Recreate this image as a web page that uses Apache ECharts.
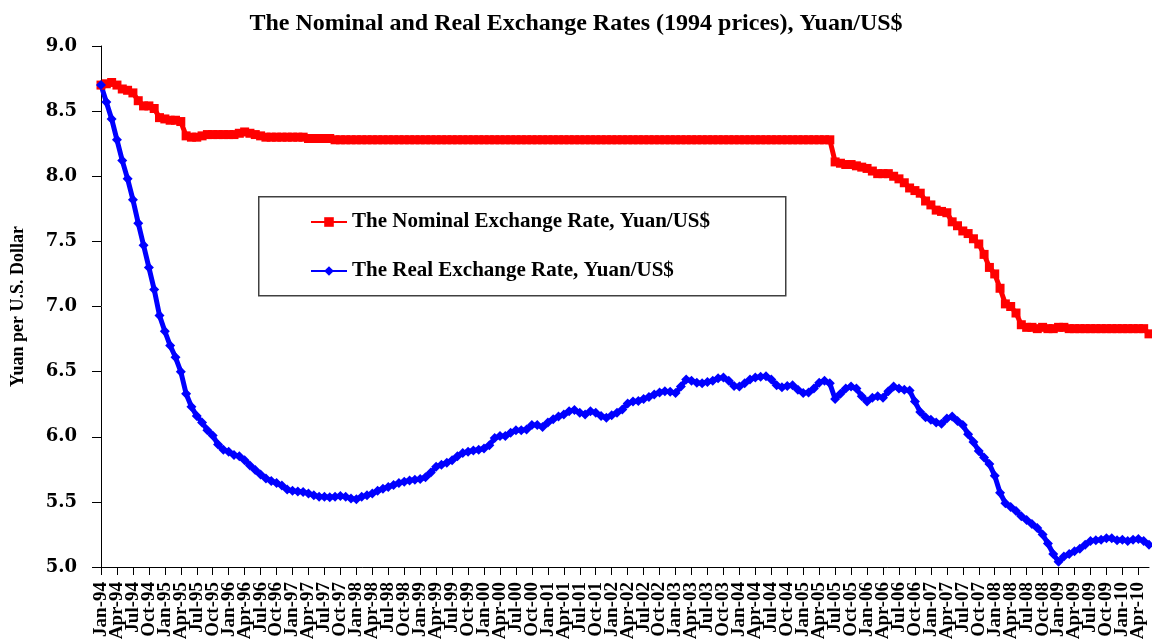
<!DOCTYPE html>
<html>
<head>
<meta charset="utf-8">
<script src="https://cdn.jsdelivr.net/npm/echarts@6/dist/echarts.min.js"></script>
<style>
  html, body { margin: 0; padding: 0; background: #fff; }
  #chart { width: 1152px; height: 639px; }
</style>
</head>
<body>
<div id="chart"></div>
<script>
const MONTHS = ['Jan', 'Feb', 'Mar', 'Apr', 'May', 'Jun', 'Jul', 'Aug', 'Sep', 'Oct', 'Nov', 'Dec'];
const YEARS = ['94', '95', '96', '97', '98', '99', '00', '01', '02', '03', '04', '05', '06', '07', '08', '09', '10'];
const LAST_MONTHS_2010 = 6; // Jan-10 .. Jun-10

const yTicks = { min: 5.0, max: 9.0, interval: 0.5 };

// Nominal exchange rate, Yuan/US$ (monthly, Jan-94 .. Jun-10)
const nominal = [
  8.70, 8.71, 8.72, 8.70, 8.67, 8.66, 8.64, 8.58, 8.54, 8.54, 8.52, 8.45, // 1994
  8.44, 8.43, 8.43, 8.42, 8.31, 8.30, 8.30, 8.31, 8.32, 8.32, 8.32, 8.32, // 1995
  8.32, 8.32, 8.33, 8.34, 8.33, 8.32, 8.31, 8.30, 8.30, 8.30, 8.30, 8.30, // 1996
  8.30, 8.30, 8.30, 8.29, 8.29, 8.29, 8.29, 8.29, 8.28, 8.28, 8.28, 8.28, // 1997
  8.28, 8.28, 8.28, 8.28, 8.28, 8.28, 8.28, 8.28, 8.28, 8.28, 8.28, 8.28, // 1998
  8.28, 8.28, 8.28, 8.28, 8.28, 8.28, 8.28, 8.28, 8.28, 8.28, 8.28, 8.28, // 1999
  8.28, 8.28, 8.28, 8.28, 8.28, 8.28, 8.28, 8.28, 8.28, 8.28, 8.28, 8.28, // 2000
  8.28, 8.28, 8.28, 8.28, 8.28, 8.28, 8.28, 8.28, 8.28, 8.28, 8.28, 8.28, // 2001
  8.28, 8.28, 8.28, 8.28, 8.28, 8.28, 8.28, 8.28, 8.28, 8.28, 8.28, 8.28, // 2002
  8.28, 8.28, 8.28, 8.28, 8.28, 8.28, 8.28, 8.28, 8.28, 8.28, 8.28, 8.28, // 2003
  8.28, 8.28, 8.28, 8.28, 8.28, 8.28, 8.28, 8.28, 8.28, 8.28, 8.28, 8.28, // 2004
  8.28, 8.28, 8.28, 8.28, 8.28, 8.28, 8.11, 8.10, 8.09, 8.09, 8.08, 8.07, // 2005
  8.06, 8.04, 8.02, 8.02, 8.02, 8.00, 7.98, 7.95, 7.91, 7.89, 7.87, 7.81, // 2006
  7.78, 7.74, 7.73, 7.72, 7.65, 7.62, 7.58, 7.56, 7.52, 7.48, 7.40, 7.30, // 2007
  7.25, 7.14, 7.02, 7.00, 6.95, 6.86, 6.84, 6.84, 6.83, 6.84, 6.83, 6.83, // 2008
  6.84, 6.84, 6.83, 6.83, 6.83, 6.83, 6.83, 6.83, 6.83, 6.83, 6.83, 6.83, // 2009
  6.83, 6.83, 6.83, 6.83, 6.83, 6.79                                      // 2010
];

// Real exchange rate (1994 prices), Yuan/US$
const real = [
  8.70, 8.57, 8.44, 8.28, 8.12, 7.98, 7.82, 7.64, 7.47, 7.30, 7.13, 6.93, // 1994
  6.81, 6.70, 6.61, 6.50, 6.33, 6.23, 6.16, 6.11, 6.05, 6.01, 5.94, 5.90, // 1995
  5.885, 5.86, 5.85, 5.82, 5.78, 5.745, 5.71, 5.68, 5.66, 5.645, 5.625, 5.595, // 1996
  5.585, 5.58, 5.575, 5.565, 5.55, 5.54, 5.54, 5.535, 5.54, 5.545, 5.54, 5.525, // 1997
  5.52, 5.54, 5.55, 5.565, 5.585, 5.60, 5.615, 5.63, 5.645, 5.655, 5.665, 5.67, // 1998
  5.675, 5.69, 5.725, 5.77, 5.785, 5.80, 5.82, 5.85, 5.875, 5.885, 5.895, 5.90, // 1999
  5.91, 5.935, 5.99, 6.005, 6.005, 6.03, 6.05, 6.05, 6.055, 6.09, 6.09, 6.075, // 2000
  6.11, 6.135, 6.155, 6.17, 6.195, 6.205, 6.185, 6.17, 6.195, 6.185, 6.16, 6.145, // 2001
  6.165, 6.185, 6.21, 6.255, 6.27, 6.275, 6.29, 6.305, 6.325, 6.34, 6.35, 6.345, // 2002
  6.335, 6.385, 6.44, 6.43, 6.415, 6.41, 6.42, 6.43, 6.45, 6.455, 6.43, 6.39, // 2003
  6.385, 6.41, 6.44, 6.455, 6.46, 6.465, 6.44, 6.395, 6.38, 6.39, 6.395, 6.36, // 2004
  6.335, 6.34, 6.37, 6.415, 6.43, 6.41, 6.29, 6.33, 6.37, 6.385, 6.37, 6.31, // 2005
  6.27, 6.30, 6.31, 6.30, 6.35, 6.385, 6.37, 6.36, 6.355, 6.27, 6.19, 6.15, // 2006
  6.13, 6.11, 6.10, 6.14, 6.155, 6.12, 6.09, 6.02, 5.96, 5.89, 5.84, 5.79, // 2007
  5.70, 5.57, 5.49, 5.46, 5.43, 5.39, 5.36, 5.33, 5.30, 5.25, 5.18, 5.10, // 2008
  5.04, 5.08, 5.10, 5.12, 5.14, 5.17, 5.20, 5.205, 5.21, 5.22, 5.22, 5.205, // 2009
  5.21, 5.20, 5.21, 5.215, 5.20, 5.17                                      // 2010
];

const categories = [];
YEARS.forEach((yy, i) => {
  const n = i === YEARS.length - 1 ? LAST_MONTHS_2010 : 12;
  for (let m = 0; m < n; m++) categories.push(`${MONTHS[m]}-${yy}`);
});

// one tick and label per quarter
const everyQuarter = (idx) => idx % 3 === 0;

const serif = '"Liberation Serif", "Times New Roman", serif';

const chart = echarts.init(document.getElementById('chart'), null, { renderer: 'canvas' });

chart.setOption({
  animation: false,
  backgroundColor: '#fff',
  title: {
    text: 'The Nominal and Real Exchange Rates (1994 prices), Yuan/US$',
    left: 'center',
    top: 7,
    textStyle: { fontFamily: serif, fontWeight: 'bold', fontSize: 24, color: '#000' }
  },
  grid: {
    left: 101,
    right: 3,
    top: 46,
    bottom: 72,
    containLabel: false,
    outerBoundsMode: 'none'
  },
  graphic: [
    {
      type: 'rect',
      left: 258,
      top: 196,
      shape: { width: 527, height: 99 },
      style: { fill: '#fff', stroke: '#404040', lineWidth: 1.5 },
      z: 90
    }
  ],
  legend: {
    orient: 'vertical',
    left: 310,
    top: 211,
    padding: 0,
    itemGap: 27,
    itemWidth: 36,
    itemHeight: 12,
    z: 100,
    textStyle: { fontFamily: serif, fontWeight: 'bold', fontSize: 21, lineHeight: 22, color: '#000' }
  },
  xAxis: {
    type: 'category',
    data: categories,
    boundaryGap: false,
    axisLine: { lineStyle: { color: '#000', width: 1 } },
    axisTick: { show: true, interval: everyQuarter, length: 8, lineStyle: { color: '#000' } },
    axisLabel: {
      // every category gets a label slot; only quarter months carry text
      interval: 0,
      formatter: (value, idx) => (everyQuarter(idx) ? value : ''),
      hideOverlap: false,
      rotate: 90,
      margin: 15,
      fontFamily: serif,
      fontWeight: 'bold',
      fontSize: 19,
      color: '#000'
    },
    splitLine: { show: false }
  },
  yAxis: {
    type: 'value',
    min: yTicks.min,
    max: yTicks.max,
    interval: yTicks.interval,
    name: 'Yuan per U.S. Dollar',
    nameLocation: 'middle',
    nameGap: 74,
    nameTextStyle: { fontFamily: serif, fontWeight: 'bold', fontSize: 18, color: '#000' },
    axisLine: { show: true, lineStyle: { color: '#000', width: 1 } },
    axisTick: { show: true, length: 9, lineStyle: { color: '#000' } },
    axisLabel: {
      margin: 24,
      formatter: (v) => v.toFixed(1),
      fontFamily: '"DejaVu Serif", serif',
      fontWeight: 'bold',
      fontSize: 18,
      color: '#000'
    },
    splitLine: { show: false }
  },
  series: [
    {
      name: 'The Nominal Exchange Rate, Yuan/US$',
      type: 'line',
      data: nominal,
      symbol: 'rect',
      symbolSize: 9,
      showAllSymbol: true,
      color: '#ff0000',
      lineStyle: { color: '#ff0000', width: 5 },
      itemStyle: { color: '#ff0000' }
    },
    {
      name: 'The Real Exchange Rate, Yuan/US$',
      type: 'line',
      data: real,
      symbol: 'diamond',
      symbolSize: 10,
      showAllSymbol: true,
      color: '#0000ff',
      lineStyle: { color: '#0000ff', width: 5 },
      itemStyle: { color: '#0000ff' }
    }
  ]
});

window.addEventListener('resize', () => chart.resize());
</script>
</body>
</html>
